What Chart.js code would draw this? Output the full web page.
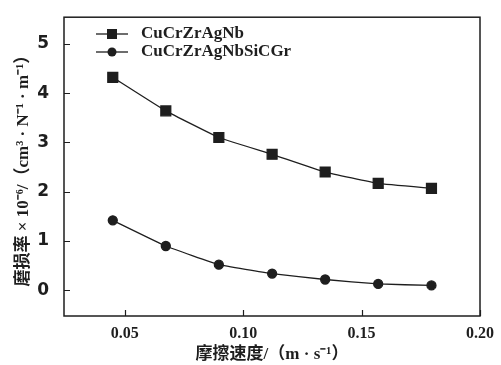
<!DOCTYPE html>
<html>
<head>
<meta charset="utf-8">
<script src="https://cdn.jsdelivr.net/npm/chart.js@4"></script>
<style>
  html, body { margin: 0; padding: 0; background: #fff; }
  #wrap { width: 501px; height: 365px; }
</style>
</head>
<body>
<div id="wrap"><canvas id="chartAus"></canvas></div>
<script>
// Data dari gambar
const speeds = [0.0449, 0.0673, 0.0897, 0.1122, 0.1346, 0.157, 0.1795];
const seriesNames = ["CuCrZrAgNb", "CuCrZrAgNbSiCGr"];
const wearNb = [4.32, 3.64, 3.1, 2.76, 2.4, 2.17, 2.07];
const wearSiCGr = [1.42, 0.9, 0.52, 0.34, 0.22, 0.13, 0.1];
const xTicks = [0.05, 0.1, 0.15, 0.2];
const yTicks = [0, 1, 2, 3, 4, 5];

const ink = "#1e1e1e";
const serif = "'Liberation Serif', 'DejaVu Serif', serif";
const mixed = "'Liberation Serif', 'Noto Sans CJK SC', serif";

function toPoints(vals) {
  return speeds.map((x, i) => ({ x: x, y: vals[i] }));
}

// Plugin: bingkai, tick ke dalam, legend manual
const framePlugin = {
  id: "frame",
  afterDraw(chart) {
    const c = chart.ctx;
    const a = chart.chartArea;
    const sx = chart.scales.x;
    const sy = chart.scales.y;
    c.save();
    c.strokeStyle = ink;
    c.lineWidth = 1.5;
    c.strokeRect(a.left, a.top, a.right - a.left, a.bottom - a.top);
    c.lineWidth = 1.2;
    c.beginPath();
    xTicks.forEach((t) => {
      const px = Math.round(sx.getPixelForValue(t)) + 0.5;
      c.moveTo(px, a.bottom);
      c.lineTo(px, a.bottom - 6);
    });
    yTicks.forEach((t) => {
      const py = Math.round(sy.getPixelForValue(t)) + 0.5;
      c.moveTo(a.left, py);
      c.lineTo(a.left + 6, py);
    });
    c.stroke();

    // legend
    const rows = [34, 52];
    chart.data.datasets.forEach((ds, i) => {
      const y = rows[i];
      c.strokeStyle = ink;
      c.lineWidth = 1.3;
      c.beginPath();
      c.moveTo(96, y);
      c.lineTo(128, y);
      c.stroke();
      c.fillStyle = ink;
      if (ds.pointStyle === "rect") {
        c.fillRect(112 - 5, y - 5, 10, 10);
      } else {
        c.beginPath();
        c.arc(112, y, 4.5, 0, Math.PI * 2);
        c.fill();
      }
      c.font = "bold 17px " + serif;
      c.textBaseline = "middle";
      c.textAlign = "left";
      c.fillText(ds.label, 141, y);
    });
    c.restore();
  },
};

const ctx = document.getElementById("chartAus").getContext("2d");
new Chart(ctx, {
  type: "line",
  data: {
    datasets: [
      {
        label: seriesNames[0],
        data: toPoints(wearNb),
        borderColor: ink,
        backgroundColor: ink,
        borderWidth: 1.3,
        pointStyle: "rect",
        pointRadius: 7,
        pointHoverRadius: 7,
        tension: 0.1,
      },
      {
        label: seriesNames[1],
        data: toPoints(wearSiCGr),
        borderColor: ink,
        backgroundColor: ink,
        borderWidth: 1.3,
        pointStyle: "circle",
        pointRadius: 4.5,
        pointHoverRadius: 4.5,
        tension: 0.1,
      },
    ],
  },
  options: {
    responsive: true,
    maintainAspectRatio: false,
    animation: false,
    events: [],
    layout: { padding: { left: 0, right: 21, top: 13, bottom: 0 } },
    plugins: { legend: { display: false }, tooltip: { enabled: false } },
    scales: {
      x: {
        type: "linear",
        min: 0.0243,
        max: 0.2,
        afterBuildTicks: (s) => { s.ticks = xTicks.map((v) => ({ value: v })); },
        afterFit: (s) => { s.height = 49; },
        grid: { display: false },
        border: { display: false },
        ticks: {
          color: ink,
          padding: 0,
          maxRotation: 0,
          font: { family: serif, size: 16, weight: "bold" },
          callback: (v) => v.toFixed(2),
        },
        title: {
          display: true,
          text: "摩擦速度/（m · s⁻¹）",
          color: ink,
          padding: { top: 0, bottom: 0 },
          font: { family: mixed, size: 17, weight: "bold" },
        },
      },
      y: {
        min: -0.52,
        max: 5.54,
        afterBuildTicks: (s) => { s.ticks = yTicks.map((v) => ({ value: v })); },
        afterFit: (s) => { s.width = 64; },
        grid: { display: false },
        border: { display: false },
        ticks: {
          color: ink,
          padding: 7,
          font: { family: "'DejaVu Sans', sans-serif", size: 17, weight: "bold" },
        },
        title: {
          display: true,
          text: "磨损率 × 10⁻⁶/（cm³ · N⁻¹ · m⁻¹）",
          color: ink,
          padding: { top: 13, bottom: 0 },
          font: { family: mixed, size: 17, weight: "bold" },
        },
      },
    },
  },
  plugins: [framePlugin],
});
</script>
</body>
</html>
